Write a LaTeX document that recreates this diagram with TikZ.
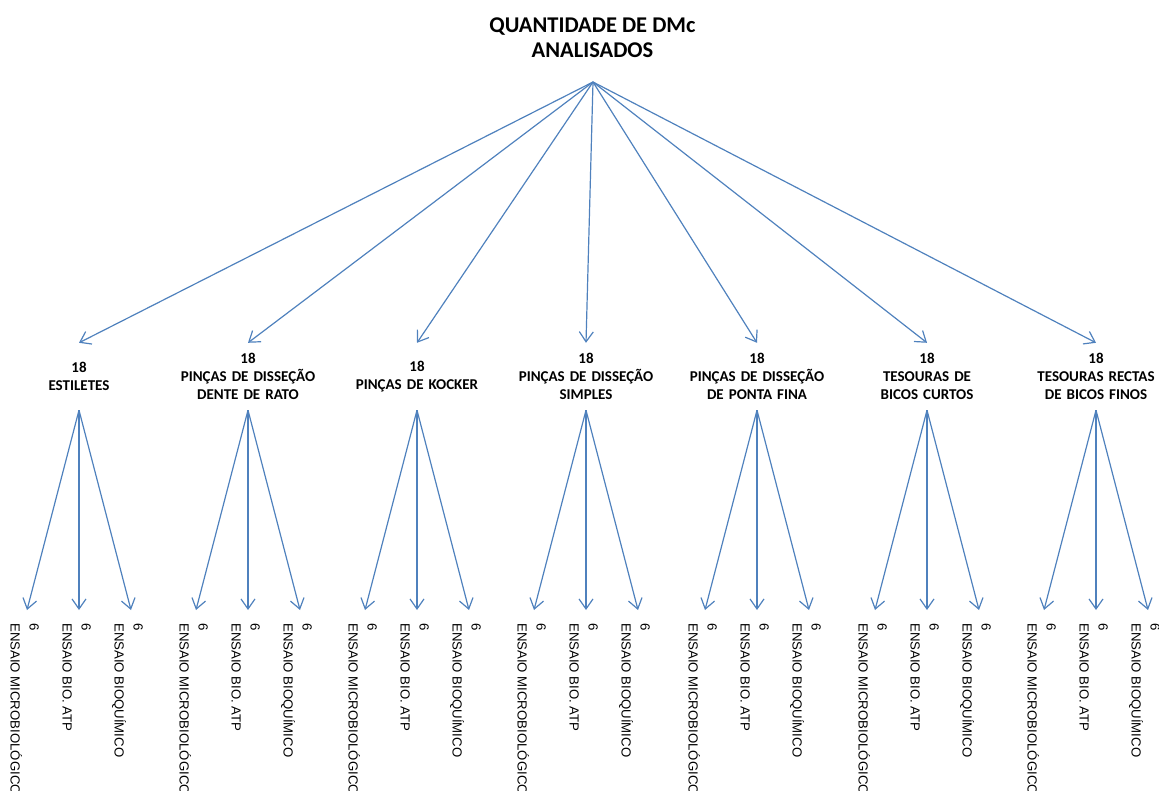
\documentclass[tikz,border=0pt]{standalone}
\usepackage{fontspec}
\setmainfont{Carlito}
\newfontfamily\leaffont{Liberation Sans}
\usetikzlibrary{arrows.meta}
\definecolor{linkblue}{HTML}{4F81BD}

\tikzset{
  heading/.style={font=\fontsize{22.5}{25}\selectfont\bfseries, align=center, inner sep=0pt},
  catbox/.style={font=\fontsize{15}{18}\selectfont\bfseries, align=center, inner sep=0pt,
                 minimum height=67pt, text width=150pt},
  leafbox/.style={font=\leaffont\fontsize{13.2}{19}\selectfont, align=left, inner sep=0pt,
                  rotate=-90, anchor=north west},
  link/.style={draw=linkblue, line width=1.2pt,
               -{Straight Barb[length=10pt, width=14pt, line width=1.2pt]}},
}

\begin{document}
\begin{tikzpicture}[x=1pt, y=-1pt]
  \useasboundingbox (0,0) rectangle (1159,791);

  % heading and the point all first-level links leave from
  \node[heading] (title) at (592.5,38) {QUANTIDADE DE DMc\\ANALISADOS};
  \coordinate (apex) at (593,82);

  % instrument categories
  \foreach \i/\cx/\lab in {
      1/79/{18\\ESTILETES},
      2/248/{18\\PINÇAS DE DISSEÇÃO\\DENTE DE RATO},
      3/417/{18\\PINÇAS DE KOCKER},
      4/586/{18\\PINÇAS DE DISSEÇÃO\\SIMPLES},
      5/757/{18\\PINÇAS DE DISSEÇÃO\\DE PONTA FINA},
      6/927/{18\\TESOURAS DE\\BICOS CURTOS},
      7/1096/{18\\TESOURAS RECTAS\\DE BICOS FINOS}} {
    \node[catbox] (cat\i) at (\cx,376.5) {\lab};
    \draw[link] (apex) -- (cat\i.north);

    % three tests per category
    \foreach \k/\dx/\test in {
        1/-52/{ENSAIO MICROBIOLÓGICO},
        2/0/{ENSAIO BIO. ATP},
        3/52/{ENSAIO BIOQUÍMICO}} {
      \coordinate (end\i\k) at (\cx+\dx,610);
      \node[leafbox] (leaf\i\k) at (\cx+\dx+12,623) {6\\\test};
      \draw[link] (cat\i.south) -- (end\i\k);
    }
  }
\end{tikzpicture}
\end{document}
